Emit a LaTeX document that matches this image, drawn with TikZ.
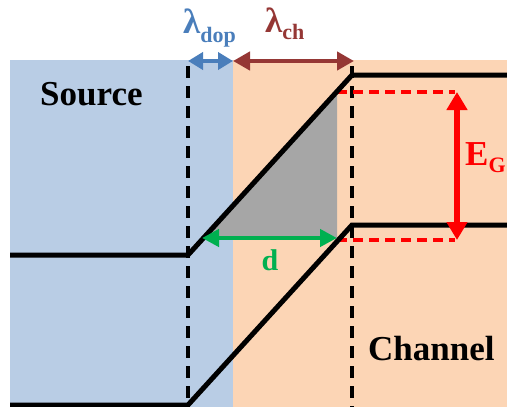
\documentclass[tikz,border=0pt]{standalone}
\usepackage{fontspec}
\setmainfont{Liberation Serif}
\usetikzlibrary{arrows.meta}
\definecolor{srcblue}{RGB}{185,205,229}
\definecolor{chorange}{RGB}{252,213,181}
\definecolor{dopblue}{RGB}{74,126,187}
\definecolor{chbrown}{RGB}{149,55,53}
\definecolor{dgreen}{RGB}{0,176,80}
\tikzset{
  band/.style={line width=5pt},
  guide/.style={line width=3.5pt, dash pattern=on 12pt off 8pt},
  gapline/.style={red, line width=3.5pt, dash pattern=on 10pt off 6pt},
  lab/.style={font=\fontsize{35}{35}\selectfont\bfseries, inner sep=0pt, anchor=base west},
}
\begin{document}
\begin{tikzpicture}[x=1pt,y=-1pt]
\useasboundingbox (0,0) rectangle (507,407);
% regions
\fill[srcblue] (10,60) rectangle (233,407);
\fill[chorange] (233,60) rectangle (507,407);
% depletion triangle
\fill[black!35] (203,238) -- (337,238) -- (337,92) -- cycle;
% edges of the doping region
\draw[guide] (188,66) -- (188,407);
\draw[guide] (352,66) -- (352,407);
% band gap guides
\draw[gapline] (337,92) -- (455,92);
\draw[gapline] (337,240) -- (455,240);
% bands
\draw[band] (10,255) -- (188,255) -- (352,75) -- (507,75);
\draw[band] (10,405) -- (188,405) -- (352,225) -- (507,225);
% arrows
\coordinate (dopL) at (188,61);
\coordinate (dopR) at (233,61);
\coordinate (chR) at (354,61);
\coordinate (dL) at (202,238);
\coordinate (dR) at (337,238);
\coordinate (egT) at (457,92);
\coordinate (egB) at (457,240);
\draw[dopblue, line width=4.5pt, {Triangle[length=15pt,width=17pt]}-{Triangle[length=15pt,width=17pt]}] (dopL) -- (dopR);
\draw[chbrown, line width=4.5pt, {Triangle[length=17pt,width=18pt]}-{Triangle[length=17pt,width=18pt]}] (dopR) -- (chR);
\draw[dgreen, line width=4.5pt, {Triangle[length=17pt,width=17pt]}-{Triangle[length=17pt,width=17pt]}] (dL) -- (dR);
\draw[red, line width=5.5pt, {Triangle[length=18pt,width=20pt]}-{Triangle[length=18pt,width=20pt]}] (egT) -- (egB);
% labels
\node[lab] (src) at (40,105) {Source};
\node[lab] (chn) at (368,360) {Channel};
\node[lab, text=dopblue] (ldop) at (183,33) {λ\raisebox{-9pt}{\fontsize{22}{22}\selectfont dop}};
\node[lab, text=chbrown] (lch) at (265,32) {λ\raisebox{-7pt}{\fontsize{22}{22}\selectfont ch}};
\node[lab, text=red] (eg) at (465,165) {E\raisebox{-7pt}{\fontsize{22}{22}\selectfont G}};
\node[lab, text=dgreen, font=\fontsize{30}{30}\selectfont\bfseries, anchor=base] (dd) at (270,270) {d};
\end{tikzpicture}
\end{document}
